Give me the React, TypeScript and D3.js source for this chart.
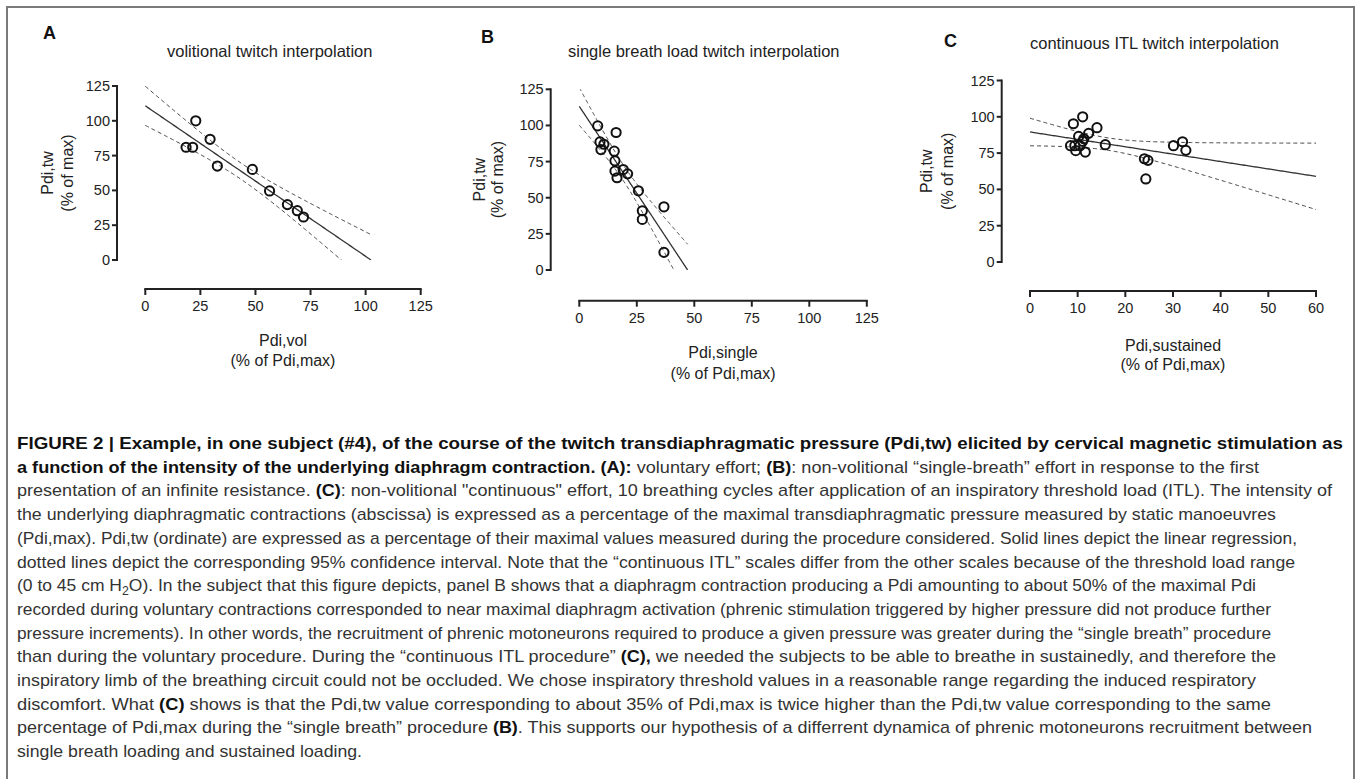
import React from 'react';
import * as d3 from 'd3';

// ---------- data ----------
// Panel A – volitional twitch interpolation
const volX = [18.5, 21.5, 22.9, 29.4, 32.7, 48.6, 56.4, 64.5, 69.0, 71.8];
const volY = [81, 81, 100, 86.7, 67.5, 65.1, 49.6, 39.8, 35.4, 30.9];
// Panel B – single breath load twitch interpolation
const singleX = [8.0, 9.0, 9.4, 10.7, 16.0, 15.2, 15.5, 15.5, 16.4, 19.1, 21.0, 25.7, 27.4, 27.4, 36.8, 36.8];
const singleY = [99.7, 88.6, 83.3, 87.0, 95.1, 82.2, 75.5, 68.4, 63.8, 69.5, 66.5, 54.8, 41.0, 35.0, 43.7, 12.2];
// Panel C – continuous ITL twitch interpolation
const sustX = [9.1, 11.05, 8.5, 9.4, 9.6, 10.2, 10.5, 11.05, 11.3, 11.6, 12.3, 14.05, 15.8, 24.0, 24.75, 24.3, 30.1, 32.0, 32.7];
const sustY = [95.2, 100, 80.1, 80.1, 76.7, 86.5, 80.1, 83.1, 84.9, 75.7, 88.6, 92.5, 80.8, 71.1, 70.0, 57.2, 80.1, 82.8, 76.9];

const yTicks = [0, 25, 50, 75, 100, 125];
const xTicksPct = [0, 25, 50, 75, 100, 125];
const xTicksSust = [0, 10, 20, 30, 40, 50, 60];

const panelLetters = ['A', 'B', 'C'];
const panelTitles = [
  'volitional twitch interpolation',
  'single breath load twitch interpolation',
  'continuous ITL twitch interpolation',
];
const xLabels = ['Pdi,vol', 'Pdi,single', 'Pdi,sustained'];
const xLabelUnit = '(% of Pdi,max)';
const yLabel = 'Pdi,tw';
const yLabelUnit = '(% of max)';

// ---------- layout (positions only) ----------
const layouts = [
  { letterX: 43, letterY: 39, titleX: 167, titleY: 57, xr: [145.3, 420.7], axisY: 289, yr: [260, 86], axisX: 117, yLabX: [53, 73], xLabY: [346, 366] },
  { letterX: 481, letterY: 43, titleX: 568, titleY: 57, xr: [579.3, 866.8], axisY: 300.7, yr: [270, 89.3], axisX: 550.7, yLabX: [485, 503], xLabY: [358, 379] },
  { letterX: 944, letterY: 47, titleX: 1030, titleY: 49, xr: [1030, 1316], axisY: 291, yr: [262, 80.5], axisX: 1001.7, yLabX: [932, 953], xLabY: [351, 370] },
];

const FONT = '"Liberation Sans", Arial, Helvetica, sans-serif';
const INK = '#222';

// two-sided 95% t quantile (Cornish-Fisher expansion)
function t975(df: number) {
  const z = 1.959964;
  const z3 = z ** 3, z5 = z ** 5, z7 = z ** 7, z9 = z ** 9;
  return (
    z +
    (z3 + z) / (4 * df) +
    (5 * z5 + 16 * z3 + 3 * z) / (96 * df ** 2) +
    (3 * z7 + 19 * z5 + 17 * z3 - 15 * z) / (384 * df ** 3) +
    (79 * z9 + 776 * z7 + 1482 * z5 - 1920 * z3 - 945 * z) / (92160 * df ** 4)
  );
}

function linearFit(xs: number[], ys: number[]) {
  const n = xs.length;
  const mx = d3.mean(xs) as number;
  const my = d3.mean(ys) as number;
  let sxx = 0, sxy = 0, syy = 0;
  xs.forEach((x, i) => {
    sxx += (x - mx) ** 2;
    sxy += (x - mx) * (ys[i] - my);
    syy += (ys[i] - my) ** 2;
  });
  const slope = sxy / sxx;
  const intercept = my - slope * mx;
  const s = Math.sqrt((syy - slope * sxy) / (n - 2));
  const t = t975(n - 2);
  const f = (x: number) => intercept + slope * x;
  const half = (x: number) => t * s * Math.sqrt(1 / n + (x - mx) ** 2 / sxx);
  return { slope, intercept, f, half };
}

type PanelProps = { idx: number; xs: number[]; ys: number[]; xTicks: number[] };

function Panel({ idx, xs, ys, xTicks }: PanelProps) {
  const L = layouts[idx];
  const xMax = xTicks[xTicks.length - 1];
  const yMax = yTicks[yTicks.length - 1];
  const x = d3.scaleLinear().domain([0, xMax]).range(L.xr as [number, number]);
  const y = d3.scaleLinear().domain([0, yMax]).range(L.yr as [number, number]);
  const fit = linearFit(xs, ys);
  const xEnd = fit.slope < 0 ? Math.min(xMax, -fit.intercept / fit.slope) : xMax;
  const samples = d3.range(0, 201).map((i) => (xEnd * i) / 200);
  const line = d3.line<number>().x((v) => x(v));
  const mid = line.y((v) => y(fit.f(v)))(samples) as string;
  const up = line.y((v) => y(fit.f(v) + fit.half(v)))(samples) as string;
  const lo = line.y((v) => y(fit.f(v) - fit.half(v)))(samples) as string;
  const clipId = `clip-${idx}`;
  const yc = (L.yr[0] + L.yr[1]) / 2;
  const xc = (L.xr[0] + L.xr[1]) / 2;
  return (
    <g fontFamily={FONT} fill={INK}>
      <text x={L.letterX} y={L.letterY} fontSize={18} fontWeight="bold" fill="#111">
        {panelLetters[idx]}
      </text>
      <text x={L.titleX} y={L.titleY} fontSize={16.5}>
        {panelTitles[idx]}
      </text>
      {/* y axis */}
      <line x1={L.axisX} x2={L.axisX} y1={y(0) + 1} y2={y(yMax) - 1} stroke={INK} strokeWidth={2} />
      {yTicks.map((t) => (
        <g key={'yt' + t}>
          <line x1={L.axisX - 5} x2={L.axisX} y1={y(t)} y2={y(t)} stroke={INK} strokeWidth={2} />
          <text x={L.axisX - 7} y={y(t) + 5} fontSize={14.5} textAnchor="end">
            {t}
          </text>
        </g>
      ))}
      {/* x axis */}
      <line x1={x(0) - 1} x2={x(xMax) + 1} y1={L.axisY} y2={L.axisY} stroke={INK} strokeWidth={2} />
      {xTicks.map((t) => (
        <g key={'xt' + t}>
          <line x1={x(t)} x2={x(t)} y1={L.axisY} y2={L.axisY + 6} stroke={INK} strokeWidth={2} />
          <text x={x(t)} y={L.axisY + 22} fontSize={14.5} textAnchor="middle">
            {t}
          </text>
        </g>
      ))}
      {/* axis titles */}
      <text x={xc} y={L.xLabY[0]} fontSize={16} textAnchor="middle">
        {xLabels[idx]}
      </text>
      <text x={xc} y={L.xLabY[1]} fontSize={16} textAnchor="middle">
        {xLabelUnit}
      </text>
      <text transform={`translate(${L.yLabX[0]},${yc}) rotate(-90)`} fontSize={16} textAnchor="middle">
        {yLabel}
      </text>
      <text transform={`translate(${L.yLabX[1]},${yc}) rotate(-90)`} fontSize={16} textAnchor="middle">
        {yLabelUnit}
      </text>
      {/* regression + CI */}
      <clipPath id={clipId}>
        <rect x={x(0) - 2} y={y(yMax)} width={x(xMax) - x(0) + 4} height={y(0) - y(yMax)} />
      </clipPath>
      <g clipPath={`url(#${clipId})`} fill="none">
        <path d={up} stroke="#444" strokeWidth={1} strokeDasharray="4,3" />
        <path d={lo} stroke="#444" strokeWidth={1} strokeDasharray="4,3" />
        <path d={mid} stroke="#333" strokeWidth={1.3} />
      </g>
      {/* points */}
      {xs.map((v, i) => (
        <circle key={'p' + i} cx={x(v)} cy={y(ys[i])} r={4.6} fill="none" stroke="#111" strokeWidth={2} />
      ))}
    </g>
  );
}

// ---------- caption ----------
type Seg = [string, boolean];
const captionLines: { segs: Seg[]; w: number; sub?: boolean }[] = [
  { segs: [['FIGURE 2 | Example, in one subject (#4), of the course of the twitch transdiaphragmatic pressure (Pdi,tw) elicited by cervical magnetic stimulation as', true]], w: 1326 },
  { segs: [['a function of the intensity of the underlying diaphragm contraction. (A):', true], [' voluntary effort; ', false], ['(B)', true], [': non-volitional \u201Csingle-breath\u201D effort in response to the first', false]], w: 1242 },
  { segs: [['presentation of an infinite resistance. ', false], ['(C)', true], [': non-volitional "continuous" effort, 10 breathing cycles after application of an inspiratory threshold load (ITL). The intensity of', false]], w: 1315 },
  { segs: [['the underlying diaphragmatic contractions (abscissa) is expressed as a percentage of the maximal transdiaphragmatic pressure measured by static manoeuvres', false]], w: 1259 },
  { segs: [['(Pdi,max). Pdi,tw (ordinate) are expressed as a percentage of their maximal values measured during the procedure considered. Solid lines depict the linear regression,', false]], w: 1280 },
  { segs: [['dotted lines depict the corresponding 95% confidence interval. Note that the \u201Ccontinuous ITL\u201D scales differ from the other scales because of the threshold load range', false]], w: 1278 },
  { segs: [], w: 1239, sub: true },
  { segs: [['recorded during voluntary contractions corresponded to near maximal diaphragm activation (phrenic stimulation triggered by higher pressure did not produce further', false]], w: 1254 },
  { segs: [['pressure increments). In other words, the recruitment of phrenic motoneurons required to produce a given pressure was greater during the \u201Csingle breath\u201D procedure', false]], w: 1254 },
  { segs: [['than during the voluntary procedure. During the \u201Ccontinuous ITL procedure\u201D ', false], ['(C),', true], [' we needed the subjects to be able to breathe in sustainedly, and therefore the', false]], w: 1259 },
  { segs: [['inspiratory limb of the breathing circuit could not be occluded. We chose inspiratory threshold values in a reasonable range regarding the induced respiratory', false]], w: 1239 },
  { segs: [['discomfort. What ', false], ['(C)', true], [' shows is that the Pdi,tw value corresponding to about 35% of Pdi,max is twice higher than the Pdi,tw value corresponding to the same', false]], w: 1254 },
  { segs: [['percentage of Pdi,max during the \u201Csingle breath\u201D procedure ', false], ['(B)', true], ['. This supports our hypothesis of a differrent dynamica of phrenic motoneurons recruitment between', false]], w: 1295 },
  { segs: [['single breath loading and sustained loading.', false]], w: 345 },
];

function Caption() {
  const x0 = 17;
  const y0 = 449;
  const dy = 23.7;
  return (
    <g fontFamily={FONT} fontSize={17}>
      {captionLines.map((ln, i) => (
        <text
          key={'c' + i}
          x={x0}
          y={y0 + i * dy}
          textLength={ln.w}
          lengthAdjust="spacingAndGlyphs"
          fill="#333"
        >
          {ln.sub ? (
            <>
              <tspan>(0 to 45 cm H</tspan>
              <tspan dy={4} fontSize={12}>2</tspan>
              <tspan dy={-4}>O). In the subject that this figure depicts, panel B shows that a diaphragm contraction producing a Pdi amounting to about 50% of the maximal Pdi</tspan>
            </>
          ) : (
            ln.segs.map((s, j) => (
              <tspan key={j} fontWeight={s[1] ? 'bold' : 'normal'} fill={s[1] ? '#111' : '#333'}>
                {s[0]}
              </tspan>
            ))
          )}
        </text>
      ))}
    </g>
  );
}

export default function App() {
  return (
    <svg
      width={1357}
      height={779}
      viewBox="0 0 1357 779"
      style={{ position: 'absolute', left: 0, top: 0, background: '#fff' }}
    >
      <rect x={0} y={0} width={1357} height={779} fill="#fff" />
      <rect x={7} y={7} width={1347} height={800} fill="none" stroke="#7a7a7a" strokeWidth={2} />
      <Panel idx={0} xs={volX} ys={volY} xTicks={xTicksPct} />
      <Panel idx={1} xs={singleX} ys={singleY} xTicks={xTicksPct} />
      <Panel idx={2} xs={sustX} ys={sustY} xTicks={xTicksSust} />
      <Caption />
    </svg>
  );
}
